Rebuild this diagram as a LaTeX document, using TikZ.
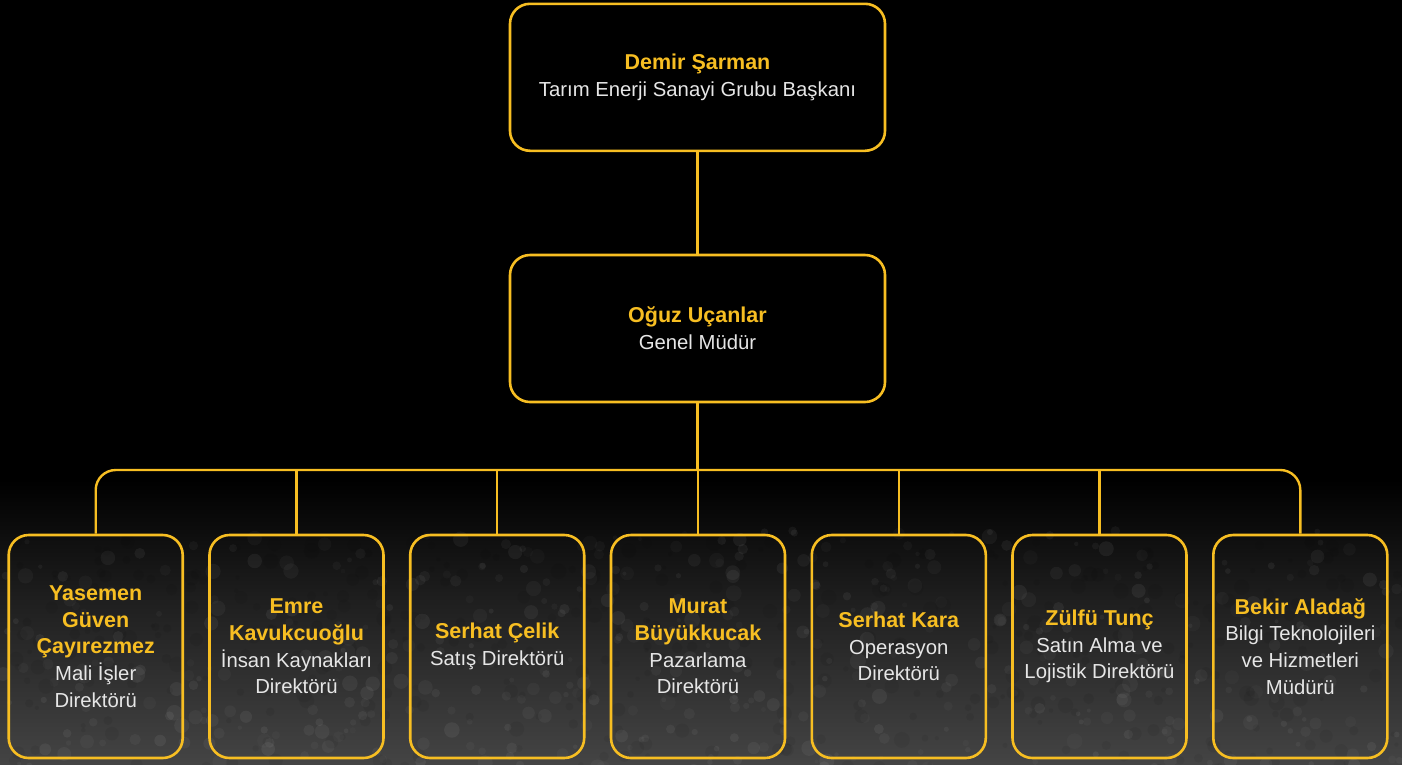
\documentclass[tikz,border=0pt]{standalone}
\usepackage{fontspec}
\setmainfont{Liberation Sans}
\definecolor{gold}{HTML}{F7BE22}
\definecolor{txt}{HTML}{E6E6E6}
\definecolor{bgtop}{HTML}{000000}
\definecolor{bgmid}{HTML}{1C1C1C}
\definecolor{bgbot}{HTML}{444444}
\begin{document}
\begin{tikzpicture}[x=1pt,y=-1pt]
\tikzset{
  box/.style={draw=gold, line width=2.6pt, rounded corners=20pt,
    minimum width=375pt, minimum height=147pt, align=center,
    font=\fontsize{20.3}{26.7}\selectfont, text=txt, inner sep=0pt},
  sbox/.style={box, minimum width=174pt, minimum height=223pt},
  conn/.style={draw=gold, line width=2.4pt}
}
\newcommand{\nm}[1]{{\fontsize{21.5}{26.7}\selectfont\bfseries\color{gold}#1}}
% background
\useasboundingbox (0,0) rectangle (1402,764);
\fill[bgtop] (0,0) rectangle (1402,764);
\begin{scope}
\clip (0,0) rectangle (1402,764);
\shade[top color=bgtop, bottom color=bgmid] (0,480) rectangle (1402,590);
\shade[top color=bgmid, bottom color=bgbot] (0,589) rectangle (1402,764);
\pgfmathsetseed{7}
\foreach \i in {1,...,500}{
  \pgfmathsetmacro{\xx}{rnd*1402}
  \pgfmathsetmacro{\yy}{530+rnd*240}
  \pgfmathsetmacro{\rr}{2+rnd*6}
  \pgfmathsetmacro{\op}{0.02+0.04*rnd}
  \fill[white, opacity=\op] (\xx,\yy) circle[radius=\rr];
}
\foreach \i in {1,...,400}{
  \pgfmathsetmacro{\xx}{rnd*1402}
  \pgfmathsetmacro{\yy}{540+rnd*230}
  \pgfmathsetmacro{\rr}{2+rnd*6}
  \fill[black, opacity=0.06] (\xx,\yy) circle[radius=\rr];
}
\end{scope}
% nodes
\node[box] (top) at (697.5,77.3) {\nm{Demir Şarman}\\Tarım Enerji Sanayi Grubu Başkanı};
\node[box] (gm) at (697.5,328.5) {\nm{Oğuz Uçanlar}\\Genel Müdür};
\node[sbox] (b1) at (95.7,646.5) {\nm{Yasemen}\\\nm{Güven}\\\nm{Çayırezmez}\\Mali İşler\\Direktörü};
\node[sbox] (b2) at (296.5,646.5) {\nm{Emre}\\\nm{Kavukcuoğlu}\\İnsan Kaynakları\\Direktörü};
\node[sbox] (b3) at (497.2,646.5) {\nm{Serhat Çelik}\\Satış Direktörü};
\node[sbox] (b4) at (698,646.5) {\nm{Murat}\\\nm{Büyükkucak}\\Pazarlama\\Direktörü};
\node[sbox] (b5) at (898.8,646.5) {\nm{Serhat Kara}\\Operasyon\\Direktörü};
\node[sbox] (b6) at (1099.5,646.5) {\nm{Zülfü Tunç}\\Satın Alma ve\\Lojistik Direktörü};
\node[sbox] (b7) at (1300.3,646.5) {\nm{Bekir Aladağ}\\Bilgi Teknolojileri\\ve Hizmetleri\\Müdürü};
% connectors
\coordinate (bus) at (697.5,470);
\draw[conn] (top.south) -- (gm.north);
\draw[conn] (gm.south) -- (bus);
\draw[conn, rounded corners=20pt] (b1.north) |- (b7.north |- bus) -- (b7.north);
\foreach \b in {b2,b3,b4,b5,b6}{
  \draw[conn] (\b.north) -- (\b.north |- bus);
}
\end{tikzpicture}
\end{document}
